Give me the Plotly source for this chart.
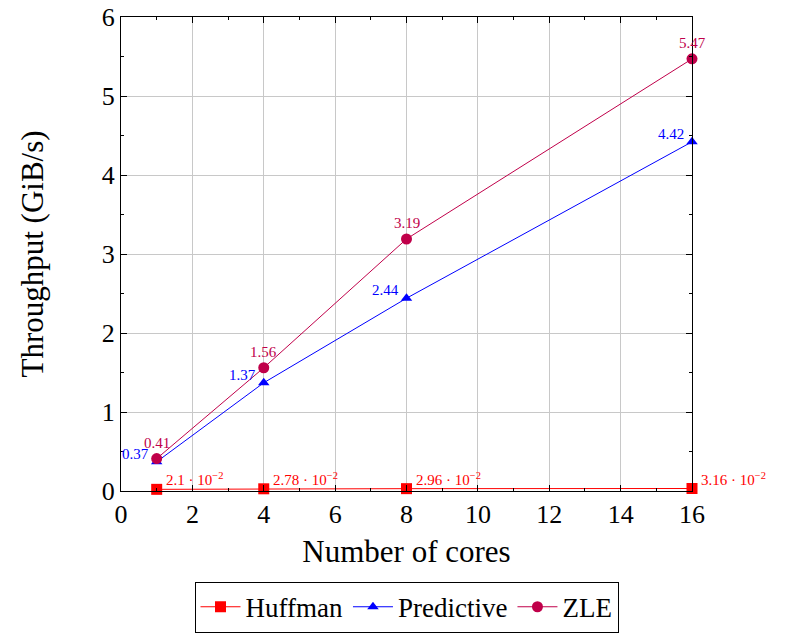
import plotly.graph_objects as go

cores = [1, 4, 8, 16]
huffman = [0.021, 0.0278, 0.0296, 0.0316]
predictive = [0.37, 1.37, 2.44, 4.42]
zle = [0.41, 1.56, 3.19, 5.47]

x_ticks = [0, 2, 4, 6, 8, 10, 12, 14, 16]
y_ticks = [0, 1, 2, 3, 4, 5, 6]

FONT = "Liberation Serif"
RED = "#ff0000"
BLUE = "#0000ff"
ZLEC = "#c0004a"


def sci(v):
    m = v * 100
    s = f"{m:.2f}".rstrip("0").rstrip(".")
    return f"{s} · 10<sup>−2</sup>"


fig = go.Figure()
fig.add_trace(go.Scatter(
    x=cores, y=huffman, name="Huffman", mode="lines+markers",
    line=dict(color=RED, width=1), marker=dict(symbol="square", size=11, color=RED),
    cliponaxis=False))
fig.add_trace(go.Scatter(
    x=cores, y=predictive, name="Predictive", mode="lines+markers",
    line=dict(color=BLUE, width=1), marker=dict(symbol="triangle-up", size=10, color=BLUE),
    cliponaxis=False))
fig.add_trace(go.Scatter(
    x=cores, y=zle, name="ZLE", mode="lines+markers",
    line=dict(color=ZLEC, width=1), marker=dict(symbol="circle", size=11, color=ZLEC),
    cliponaxis=False))

for xv, yv in zip(cores, huffman):
    fig.add_annotation(x=xv, y=yv, text=sci(yv), showarrow=False,
                       xanchor="left", yanchor="bottom", xshift=7, yshift=-1,
                       font=dict(family=FONT, size=15, color=RED))
for xv, yv in zip(cores, predictive):
    fig.add_annotation(x=xv, y=yv, text=f"{yv:g}", showarrow=False,
                       xanchor="right", yanchor="middle", xshift=-6, yshift=8,
                       font=dict(family=FONT, size=15, color=BLUE))
for xv, yv in zip(cores, zle):
    fig.add_annotation(x=xv, y=yv, text=f"{yv:g}", showarrow=False,
                       xanchor="center", yanchor="bottom", yshift=6,
                       font=dict(family=FONT, size=15, color=ZLEC))

axis_common = dict(
    showline=True, linecolor="black", linewidth=1, mirror="ticks",
    ticks="inside", ticklen=6, tickcolor="black",
    showgrid=True, gridcolor="#c8c8c8", gridwidth=1, zeroline=False,
    tickfont=dict(family=FONT, size=26, color="black"),
    ticklabeloverflow="allow",
)

fig.update_xaxes(
    range=[0, 16], tickvals=x_ticks, ticktext=[str(t) for t in x_ticks],
    title=dict(text="Number of cores", font=dict(family=FONT, size=31, color="black"), standoff=12),
    minor=dict(ticks="inside", dtick=1, tick0=0, ticklen=3, tickcolor="black", showgrid=False),
    **axis_common)
fig.update_yaxes(
    range=[0, 6], tickvals=y_ticks, ticktext=[str(t) for t in y_ticks],
    title=dict(text="Throughput (GiB/s)", font=dict(family=FONT, size=31, color="black"), standoff=48),
    minor=dict(ticks="inside", dtick=0.5, tick0=0, ticklen=3, tickcolor="black", showgrid=False),
    **axis_common)

fig.update_layout(
    width=785, height=627,
    margin=dict(l=113, r=101, t=9, b=144, autoexpand=False),
    plot_bgcolor="white", paper_bgcolor="white",
    font=dict(family=FONT, color="black"),
    legend=dict(orientation="h", x=0.5, xanchor="center", xref="paper",
                y=0.085, yanchor="top", yref="container",
                bordercolor="black", borderwidth=1,
                font=dict(family=FONT, size=27, color="black"),
                itemwidth=40, tracegroupgap=0),
)

fig.write_html("out.html")
